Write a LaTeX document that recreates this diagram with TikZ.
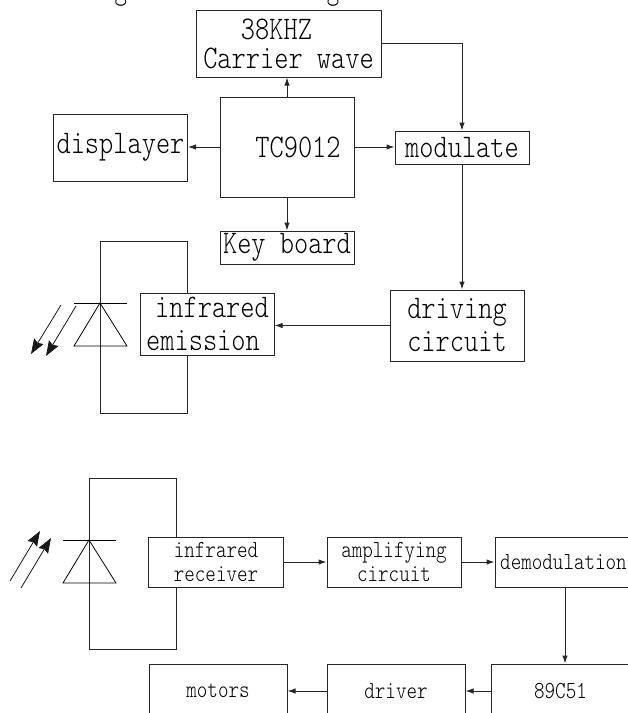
\documentclass[tikz,border=0pt]{standalone}
\usepackage{fontspec}
\setmonofont{Latin Modern Mono Light}[FakeStretch=0.82]
\usetikzlibrary{arrows.meta}
\tikzset{
  boxbase/.style={draw=black!85,fill=white,line width=1pt,inner sep=0pt,align=center,font=\ttfamily},
  bigbox/.style={boxbase,font=\ttfamily\fontsize{33}{29}\selectfont},
  widebox/.style={boxbase,font=\ttfamily\fontsize{33}{33}\selectfont},
  smallbox/.style={boxbase,font=\ttfamily\fontsize{24.5}{24.5}\selectfont},
  loopbox/.style={draw=black!85,line width=1pt,inner sep=0pt},
  flow/.style={draw=black!85,line width=1pt,-{Latex[length=8pt,width=5.5pt]}},
  ray/.style={draw=black!90,line width=0.8pt,-{Stealth[length=15pt,width=11pt,inset=2pt]}},
  diode/.style={draw=black,line width=0.8pt}
}
\begin{document}
\begin{tikzpicture}[x=1pt,y=-1pt]
\useasboundingbox (0,0) rectangle (628,713);
\clip (0,0) rectangle (628,713);
% caption, cut by the top edge
\node[anchor=base west,inner sep=0pt,font=\ttfamily\fontsize{29}{30}\selectfont] (caption) at (2,-0.5) {modulating and demodulating circuit};
% transmitter
\node[loopbox,minimum width=87pt,minimum height=172pt] (txloop) at (143.5,327) {};
\draw[diode] (74,303) -- (127,303);
\draw[diode] (100,303) -- (127,346) -- (74,346) -- cycle;
\coordinate (txa1) at (61,305); \coordinate (txa2) at (31,354);
\coordinate (txb1) at (76,306); \coordinate (txb2) at (46,356);
\draw[ray] (txa1) -- (txa2);
\draw[ray] (txb1) -- (txb2);
\node[bigbox,minimum width=185pt,minimum height=67pt] (carrier) at (288.5,43.5) {38KHZ\hspace*{24pt}\\Carrier wave};
\node[bigbox,minimum width=134pt,minimum height=100pt] (tc) at (287,147) {\hspace*{22pt}TC9012};
\node[bigbox,minimum width=134pt,minimum height=67pt] (disp) at (120.5,147.5) {displayer};
\node[bigbox,minimum width=134pt,minimum height=33pt] (key) at (287,247.5) {Key board};
\node[bigbox,minimum width=134pt,minimum height=33pt] (mod) at (462,147.5) {modulate};
\node[widebox,minimum width=134pt,minimum height=71pt] (drv) at (457,325.5) {driving\\circuit};
\node[widebox,minimum width=134pt,minimum height=62pt] (emi) at (207,324) {\hspace*{10pt}infrared\\emission\hspace*{8pt}};
\draw[flow] (tc.north) -- (tc.north |- carrier.south);
\draw[flow] (tc.west) -- (tc.west -| disp.east);
\draw[flow] (tc.east) -- (tc.east -| mod.west);
\draw[flow] (tc.south) -- (tc.south |- key.north);
\draw[flow] (carrier.east) -| (mod.north);
\draw[flow] (mod.south) -- (mod.south |- drv.north);
\draw[flow] (drv.west) -- (drv.west -| emi.east);
% receiver
\node[loopbox,minimum width=87pt,minimum height=171pt] (rxloop) at (132.5,563.5) {};
\draw[diode] (63,540) -- (116,540);
\draw[diode] (89,540) -- (116,583) -- (63,583) -- cycle;
\coordinate (rxa1) at (10,581); \coordinate (rxa2) at (40,531);
\coordinate (rxb1) at (21,588); \coordinate (rxb2) at (51,538);
\draw[ray] (rxa1) -- (rxa2);
\draw[ray] (rxb1) -- (rxb2);
\node[smallbox,minimum width=134.5pt,minimum height=50pt] (rx) at (216,562) {infrared\\receiver};
\node[smallbox,minimum width=134pt,minimum height=50pt] (amp) at (394,562) {amplifying\\circuit};
\node[smallbox,minimum width=137pt,minimum height=50pt] (dem) at (563.5,562) {demodulation};
\node[smallbox,minimum width=139pt,minimum height=54pt] (mcu) at (560.5,691) {89C51};
\node[smallbox,minimum width=138pt,minimum height=54pt] (driver) at (396,691) {driver};
\node[smallbox,minimum width=138pt,minimum height=54pt] (motors) at (218,691) {motors};
\draw[flow] (rx.east) -- (rx.east -| amp.west);
\draw[flow] (amp.east) -- (amp.east -| dem.west);
\coordinate (demout) at (565,587);
\draw[flow] (demout) -- (demout |- mcu.north);
\draw[flow] (mcu.west) -- (mcu.west -| driver.east);
\draw[flow] (driver.west) -- (driver.west -| motors.east);
\end{tikzpicture}
\end{document}
